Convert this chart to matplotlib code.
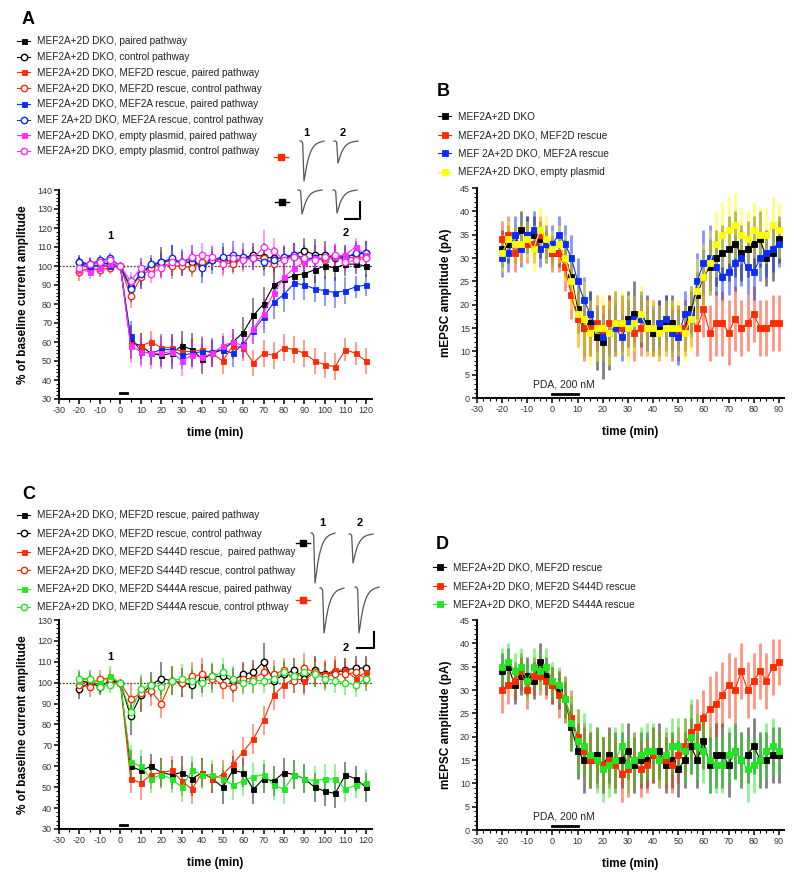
import matplotlib.pyplot as plt
from matplotlib.lines import Line2D
from matplotlib.ticker import MultipleLocator
import numpy as np

plt.rcParams['font.family'] = ['Liberation Sans', 'DejaVu Sans']
plt.rcParams['axes.unicode_minus'] = False

# x values
t_ltp = np.arange(-20, 121, 5)          # LTD time course, every 5 min
t_mini = np.arange(-20, 90.1, 2.5)      # mEPSC time course, every 2.5 min

# ---------------- panel A : % of baseline ----------------
A_dko_p = [101, 100, 100, 100, 100, 60, 58, 54, 53, 54, 58, 56, 51, 54, 56, 60, 65, 74, 80, 90, 93, 95, 96, 98, 100, 99, 101, 101, 100]
A_dko_p_err = [4, 3, 4, 3, 0, 9, 7, 6, 6, 8, 8, 9, 8, 7, 7, 7, 8, 9, 9, 8, 7, 6, 8, 7, 7, 7, 6, 5, 6]
A_dko_c = [102, 101, 102, 101, 100, 89, 96, 100, 102, 103, 102, 102, 100, 103, 104, 102, 104, 106, 105, 104, 104, 106, 108, 106, 106, 104, 105, 106, 107]
A_dko_c_err = [4, 3, 3, 3, 0, 5, 6, 4, 8, 8, 6, 6, 6, 5, 6, 5, 5, 6, 7, 6, 6, 6, 7, 8, 7, 7, 6, 6, 6]
A_2d_p = [100, 101, 100, 100, 100, 59, 58, 60, 57, 57, 55, 55, 56, 54, 50, 58, 57, 49, 54, 53, 57, 56, 54, 50, 48, 47, 56, 54, 50]
A_2d_p_err = [5, 4, 4, 3, 0, 7, 7, 6, 6, 7, 7, 7, 7, 7, 7, 7, 7, 7, 7, 7, 7, 7, 7, 7, 7, 7, 6, 6, 7]
A_2d_c = [97, 99, 98, 99, 100, 84, 94, 99, 101, 100, 100, 99, 102, 103, 102, 101, 104, 104, 104, 101, 104, 105, 103, 104, 103, 105, 105, 104, 105]
A_2d_c_err = [5, 4, 4, 3, 0, 6, 6, 5, 7, 7, 5, 5, 6, 5, 6, 5, 5, 6, 6, 6, 6, 6, 6, 6, 6, 6, 5, 5, 5]
A_2a_p = [101, 99, 101, 100, 100, 63, 55, 54, 56, 56, 53, 54, 55, 55, 56, 54, 59, 66, 73, 81, 85, 91, 90, 88, 87, 86, 87, 89, 90]
A_2a_p_err = [4, 3, 3, 3, 0, 8, 7, 6, 8, 8, 7, 7, 7, 7, 7, 7, 7, 7, 8, 9, 9, 9, 8, 7, 8, 8, 7, 6, 6]
A_2a_c = [102, 101, 103, 104, 100, 88, 96, 101, 102, 104, 102, 104, 99, 103, 105, 106, 105, 104, 102, 103, 105, 106, 104, 104, 104, 105, 104, 107, 107]
A_2a_c_err = [3, 3, 3, 3, 0, 7, 8, 5, 5, 7, 7, 7, 8, 7, 7, 7, 7, 6, 7, 6, 6, 6, 7, 7, 6, 6, 6, 6, 6]
A_emp_p = [98, 97, 99, 101, 100, 58, 55, 54, 54, 55, 50, 53, 52, 54, 58, 60, 58, 67, 75, 86, 94, 99, 102, 104, 104, 105, 106, 110, 106]
A_emp_p_err = [4, 4, 4, 3, 0, 9, 8, 8, 8, 8, 8, 7, 7, 7, 7, 7, 7, 8, 8, 8, 7, 7, 6, 6, 6, 6, 5, 5, 5]
A_emp_c = [99, 101, 102, 103, 100, 92, 99, 96, 99, 102, 102, 105, 106, 105, 101, 104, 103, 104, 110, 108, 103, 105, 104, 103, 105, 106, 102, 103, 104]
A_emp_c_err = [4, 3, 3, 3, 0, 5, 5, 5, 6, 6, 6, 6, 6, 6, 6, 6, 6, 6, 9, 7, 6, 6, 6, 6, 6, 6, 5, 5, 5]
A_labels = ['MEF2A+2D DKO, paired pathway', 'MEF2A+2D DKO, control pathway',
            'MEF2A+2D DKO, MEF2D rescue, paired pathway', 'MEF2A+2D DKO, MEF2D rescue, control pathway',
            'MEF2A+2D DKO, MEF2A rescue, paired pathway', 'MEF 2A+2D DKO, MEF2A rescue, control pathway',
            'MEF2A+2D DKO, empty plasmid, paired pathway', 'MEF2A+2D DKO, empty plasmid, control pathway']

# ---------------- panel B : mEPSC amplitude (pA) ----------------
B_dko = [32, 33, 33, 36, 35, 35, 34, 33, 31, 31, 30, 26, 19, 15, 16, 13, 12, 14, 16, 16, 17, 18, 17, 16, 14, 15, 16, 16, 15, 15,
         19, 22, 26, 28, 30, 31, 32, 33, 31, 32, 33, 34, 30, 31, 34]
B_dko_err = [4, 4, 4, 4, 4, 4, 4, 3, 3, 3, 4, 4, 5, 6, 7, 7, 8, 8, 7, 6, 6, 7, 6, 6, 5, 6, 6, 6, 5, 5,
             5, 5, 6, 6, 6, 6, 7, 7, 6, 6, 6, 6, 6, 6, 5]
B_2d = [34, 35, 31, 33, 33, 33, 35, 33, 31, 31, 28, 22, 17, 15, 15, 16, 14, 16, 15, 15, 15, 14, 15, 15, 15, 14, 15, 14, 14, 15,
        17, 15, 19, 14, 16, 16, 14, 17, 15, 16, 18, 15, 15, 16, 16]
B_2d_err = [4, 4, 4, 4, 4, 4, 4, 4, 4, 4, 5, 5, 6, 7, 6, 6, 6, 6, 6, 6, 6, 6, 6, 6, 6, 6, 6, 6, 6, 6,
            6, 6, 6, 6, 7, 7, 7, 7, 6, 6, 6, 6, 6, 6, 6]
B_2a = [30, 31, 35, 32, 35, 36, 32, 33, 33, 35, 33, 30, 25, 21, 18, 15, 13, 14, 15, 13, 16, 17, 17, 15, 15, 16, 17, 14, 13, 18,
        18, 25, 29, 30, 28, 26, 27, 29, 30, 28, 27, 30, 31, 32, 33]
B_2a_err = [4, 4, 4, 4, 4, 4, 4, 4, 4, 4, 4, 5, 5, 5, 5, 5, 5, 5, 5, 5, 5, 5, 5, 5, 5, 5, 5, 5, 6, 5,
            5, 6, 7, 7, 6, 5, 5, 6, 6, 6, 6, 5, 5, 5, 5]
B_emp = [31, 34, 33, 33, 34, 32, 36, 34, 32, 33, 30, 25, 18, 17, 14, 15, 15, 14, 16, 16, 15, 16, 18, 15, 15, 14, 15, 15, 15, 14,
         17, 23, 26, 29, 33, 35, 36, 37, 35, 34, 36, 35, 35, 37, 36]
B_emp_err = [4, 4, 4, 4, 4, 5, 5, 5, 4, 4, 5, 6, 7, 8, 7, 7, 7, 7, 7, 7, 7, 6, 6, 6, 6, 6, 6, 6, 6, 6,
             7, 7, 7, 7, 7, 7, 7, 7, 6, 6, 6, 6, 6, 6, 6]
B_labels = ['MEF2A+2D DKO', 'MEF2A+2D DKO, MEF2D rescue', 'MEF 2A+2D DKO, MEF2A rescue', 'MEF2A+2D DKO, empty plasmid']

# ---------------- panel C : % of baseline ----------------
C_2d_p = [101, 100, 99, 100, 100, 60, 58, 60, 57, 56, 57, 54, 57, 54, 50, 58, 57, 49, 54, 53, 57, 56, 54, 50, 48, 47, 56, 54, 50]
C_2d_p_err = [4, 3, 4, 3, 0, 8, 7, 6, 7, 7, 8, 8, 7, 7, 8, 7, 7, 7, 7, 7, 7, 7, 7, 7, 7, 7, 6, 6, 7]
C_2d_c = [97, 100, 98, 101, 100, 84, 94, 99, 102, 101, 100, 99, 102, 103, 103, 101, 104, 105, 110, 101, 104, 106, 102, 106, 104, 105, 106, 107, 107]
C_2d_c_err = [5, 4, 4, 3, 0, 9, 8, 6, 8, 7, 7, 7, 7, 6, 6, 6, 6, 6, 9, 7, 6, 6, 7, 7, 6, 6, 6, 6, 6]
C_sd_p = [99, 101, 99, 100, 100, 54, 52, 56, 57, 58, 53, 49, 57, 54, 56, 61, 67, 73, 82, 94, 99, 102, 101, 105, 104, 106, 106, 102, 105]
C_sd_p_err = [4, 4, 4, 3, 0, 7, 8, 7, 7, 7, 7, 7, 7, 7, 7, 7, 7, 7, 7, 7, 7, 7, 7, 7, 7, 7, 6, 6, 7]
C_sd_c = [99, 98, 102, 102, 100, 92, 95, 96, 90, 101, 100, 103, 104, 102, 99, 98, 102, 102, 105, 104, 106, 101, 107, 105, 103, 104, 104, 105, 102]
C_sd_c_err = [5, 5, 4, 4, 0, 8, 8, 7, 7, 7, 7, 7, 8, 7, 7, 7, 7, 7, 7, 7, 6, 6, 7, 7, 6, 6, 6, 6, 6]
C_sa_p = [101, 102, 100, 103, 100, 62, 60, 54, 56, 54, 50, 58, 56, 56, 54, 51, 53, 55, 56, 51, 49, 56, 54, 53, 54, 54, 49, 51, 52]
C_sa_p_err = [5, 4, 4, 5, 0, 8, 8, 7, 7, 7, 7, 7, 7, 7, 7, 7, 7, 7, 7, 7, 7, 7, 7, 7, 7, 7, 6, 6, 6]
C_sa_c = [102, 102, 98, 99, 100, 86, 97, 99, 98, 101, 102, 101, 100, 103, 105, 102, 100, 101, 101, 102, 105, 103, 105, 104, 102, 101, 100, 99, 102]
C_sa_c_err = [4, 4, 4, 4, 0, 8, 7, 6, 7, 7, 7, 7, 7, 7, 7, 6, 6, 6, 6, 6, 6, 6, 6, 6, 6, 6, 6, 6, 6]
C_labels = ['MEF2A+2D DKO, MEF2D rescue, paired pathway', 'MEF2A+2D DKO, MEF2D rescue, control pathway',
            'MEF2A+2D DKO, MEF2D S444D rescue,  paired pathway', 'MEF2A+2D DKO, MEF2D S444D rescue, control pathway',
            'MEF2A+2D DKO, MEF2D S444A rescue, paired pathway', 'MEF2A+2D DKO, MEF2D S444A rescue, control pthway']

# ---------------- panel D : mEPSC amplitude (pA) ----------------
D_2d = [34, 35, 31, 33, 33, 32, 36, 33, 31, 30, 28, 22, 17, 15, 15, 16, 14, 16, 15, 15, 17, 14, 15, 15, 16, 17, 14, 15, 13, 15,
        18, 15, 19, 14, 16, 16, 14, 17, 15, 16, 18, 15, 15, 16, 16]
D_2d_err = [4, 4, 4, 4, 4, 4, 4, 4, 4, 4, 4, 5, 6, 7, 6, 6, 6, 6, 6, 6, 6, 6, 6, 6, 6, 6, 6, 6, 6, 6,
            6, 6, 6, 6, 7, 7, 7, 6, 6, 6, 6, 6, 6, 6, 6]
D_sd = [30, 31, 32, 34, 30, 33, 33, 32, 31, 29, 28, 24, 20, 17, 15, 15, 14, 15, 14, 12, 13, 15, 13, 14, 16, 15, 15, 14, 16, 18,
        21, 22, 24, 26, 27, 29, 31, 30, 34, 30, 32, 34, 32, 35, 36]
D_sd_err = [5, 4, 4, 4, 4, 4, 4, 4, 4, 5, 5, 6, 6, 6, 6, 6, 6, 6, 6, 6, 6, 6, 6, 6, 6, 6, 6, 6, 6, 6,
            6, 6, 6, 7, 7, 7, 7, 7, 6, 6, 6, 6, 6, 6, 5]
D_sa = [35, 36, 34, 35, 32, 35, 34, 35, 32, 31, 28, 23, 19, 18, 16, 15, 13, 14, 15, 18, 14, 15, 16, 17, 17, 15, 16, 18, 18, 17,
        20, 18, 17, 15, 14, 14, 16, 17, 15, 13, 14, 15, 17, 18, 17]
D_sa_err = [4, 4, 4, 4, 4, 4, 4, 4, 4, 4, 5, 6, 7, 7, 7, 7, 7, 7, 7, 5, 6, 6, 6, 6, 6, 6, 6, 6, 6, 7,
            8, 7, 7, 7, 6, 6, 6, 6, 6, 7, 6, 6, 6, 6, 5]
D_labels = ['MEF2A+2D DKO, MEF2D rescue', 'MEF2A+2D DKO, MEF2D S444D rescue', 'MEF2A+2D DKO, MEF2D S444A rescue']

# example EPSC trace (normalised shape) and peak amplitudes of the insets
trace_shape = [0, 0, -0.05, -1.0, -0.82, -0.62, -0.47, -0.36, -0.27, -0.2, -0.15, -0.11, -0.08, -0.06, -0.04, -0.03, -0.02, -0.01, 0]
A_trace_amp = {'red': [40, 22], 'black': [24, 23]}
C_trace_amp = {'black': [50, 29], 'red': [45, 46]}

BLK, RED, BLU, MAG, YEL, GRN = '#000000', '#ff2a00', '#0a2aff', '#ff2bff', '#ffff00', '#1ee81e'
TXT = '#222222'

W, H = 800, 875
fig = plt.figure(figsize=(8, 8.75), dpi=100)


def px_rect(x0, y0, x1, y1):
    return [x0 / W, 1 - y1 / H, (x1 - x0) / W, (y1 - y0) / H]


def style(ax, xlim, ylim, xmaj, xmin, ymaj, ymin, ylabel):
    ax.set_xlim(*xlim)
    ax.set_ylim(*ylim)
    for s in ['top', 'right']:
        ax.spines[s].set_visible(False)
    for s in ['left', 'bottom']:
        ax.spines[s].set_linewidth(1.4)
    ax.xaxis.set_major_locator(MultipleLocator(xmaj))
    ax.xaxis.set_minor_locator(MultipleLocator(xmin))
    ax.yaxis.set_major_locator(MultipleLocator(ymaj))
    ax.yaxis.set_minor_locator(MultipleLocator(ymin))
    ax.tick_params(which='major', length=3.5, width=1.1, labelsize=6.5, labelcolor='#333333', pad=1.5)
    ax.tick_params(which='minor', length=2, width=0.8)
    ax.set_xlabel('time (min)', fontsize=8.5, fontweight='bold', labelpad=9)
    ax.set_ylabel(ylabel, fontsize=8.5, fontweight='bold', labelpad=6)


def draw(ax, x, series, ms_sq=3.6, ms_o=4.6, elw=1.3):
    handles = []
    for y, err, col, filled in series:
        ax.errorbar(x, y, yerr=err, fmt='none', ecolor=col, elinewidth=elw, alpha=0.5, capsize=0, zorder=2)
        if filled:
            kw = dict(marker='s', ms=ms_sq, mfc=col, mec=col, mew=0.6)
        else:
            kw = dict(marker='o', ms=ms_o, mfc='white', mec=col, mew=1.0)
        ax.plot(x, y, color=col, lw=0.8, zorder=3, **kw)
        handles.append(Line2D([], [], color=col, lw=0.8, **kw))
    return handles


def legend(handles, labels, x, y, spacing, fs=7.2):
    fig.legend(handles, labels, loc='upper left', bbox_to_anchor=(x / W, 1 - y / H), frameon=False,
               fontsize=fs, labelcolor=TXT, handlelength=1.3, handletextpad=0.7,
               borderpad=0, borderaxespad=0, labelspacing=spacing, numpoints=1)


# ---- A ----
axA = fig.add_axes(px_rect(59, 190, 372, 399))
style(axA, (-30, 123), (30, 140), 10, 5, 10, 2, '% of baseline current amplitude')
axA.axhline(100, color='#444444', lw=0.9, ls=(0, (1.5, 1.2)), zorder=1)
hA = draw(axA, t_ltp, [(A_dko_p, A_dko_p_err, BLK, True), (A_dko_c, A_dko_c_err, BLK, False),
                       (A_2d_p, A_2d_p_err, RED, True), (A_2d_c, A_2d_c_err, RED, False),
                       (A_2a_p, A_2a_p_err, BLU, True), (A_2a_c, A_2a_c_err, BLU, False),
                       (A_emp_p, A_emp_p_err, MAG, True), (A_emp_c, A_emp_c_err, MAG, False)])
axA.plot([0, 3.3], [33, 33], color=BLK, lw=2)
axA.text(-5, 114, '1', fontsize=8, fontweight='bold', ha='center')
axA.text(110, 116, '2', fontsize=8, fontweight='bold', ha='center')
legend(hA, A_labels, 17, 36.5, 0.57)

# ---- B ----
axB = fig.add_axes(px_rect(477, 188, 784, 398))
style(axB, (-30, 92), (0, 45), 10, 2.5, 5, 1, 'mEPSC amplitude (pA)')
hB = draw(axB, t_mini, [(B_dko, B_dko_err, BLK, True), (B_2d, B_2d_err, RED, True),
                        (B_2a, B_2a_err, BLU, True), (B_emp, B_emp_err, YEL, True)], ms_sq=3.8, elw=2)
axB.plot([0, 10], [0.9, 0.9], color=BLK, lw=2)
axB.text(4.5, 2.3, 'PDA, 200 nM', fontsize=7.5, ha='center', color=TXT)
legend(hB, B_labels, 438, 111.5, 0.85)

# ---- C ----
axC = fig.add_axes(px_rect(59, 620, 372, 829))
style(axC, (-30, 123), (30, 130), 10, 5, 10, 2, '% of baseline current amplitude')
axC.axhline(100, color='#444444', lw=0.9, ls=(0, (1.5, 1.2)), zorder=1)
hC = draw(axC, t_ltp, [(C_2d_p, C_2d_p_err, BLK, True), (C_2d_c, C_2d_c_err, BLK, False),
                       (C_sd_p, C_sd_p_err, RED, True), (C_sd_c, C_sd_c_err, RED, False),
                       (C_sa_p, C_sa_p_err, GRN, True), (C_sa_c, C_sa_c_err, GRN, False)])
axC.plot([0, 3.3], [32, 32], color=BLK, lw=2)
axC.text(-5, 111, '1', fontsize=8, fontweight='bold', ha='center')
axC.text(110, 115, '2', fontsize=8, fontweight='bold', ha='center')
legend(hC, C_labels, 17, 510.5, 0.84)

# ---- D ----
axD = fig.add_axes(px_rect(477, 620, 784, 830))
style(axD, (-30, 92), (0, 45), 10, 2.5, 5, 1, 'mEPSC amplitude (pA)')
hD = draw(axD, t_mini, [(D_2d, D_2d_err, BLK, True), (D_sd, D_sd_err, RED, True),
                        (D_sa, D_sa_err, GRN, True)], ms_sq=3.8, elw=2)
axD.plot([0, 10], [0.9, 0.9], color=BLK, lw=2)
axD.text(4.5, 2.3, 'PDA, 200 nM', fontsize=7.5, ha='center', color=TXT)
legend(hD, D_labels, 433, 562.5, 0.87)

# ---- panel letters ----
for letter, x, y in [('A', 22, 24), ('B', 437, 96), ('C', 22, 499), ('D', 436, 549)]:
    fig.text(x / W, 1 - y / H, letter, fontsize=13, fontweight='bold')

# ---- example traces (overlay in pixel coordinates) ----
ov = fig.add_axes([0, 0, 1, 1], zorder=10)
ov.set_xlim(0, W)
ov.set_ylim(H, 0)
ov.axis('off')
ov.patch.set_alpha(0)
shape = np.array(trace_shape)
tx = np.linspace(0, 24, len(shape))


def trace(x0, y0, amp):
    ov.plot(x0 + tx, y0 - shape * amp, color='#555555', lw=0.9)


def pathway_marker(x, y, col):
    ov.plot([x - 7, x + 7], [y, y], color=col, lw=1)
    ov.plot([x], [y], marker='s', ms=4, color=col)


# panel A insets
ov.text(306, 136, '1', fontsize=8, fontweight='bold', ha='center')
ov.text(343, 136, '2', fontsize=8, fontweight='bold', ha='center')
pathway_marker(281, 157, RED)
trace(300, 141, A_trace_amp['red'][0])
trace(334, 141, A_trace_amp['red'][1])
pathway_marker(282, 202, BLK)
trace(298, 190, A_trace_amp['black'][0])
trace(333, 190, A_trace_amp['black'][1])
ov.plot([345, 360, 360], [219, 219, 202], color=BLK, lw=1.5)

# panel C insets
ov.text(322, 526, '1', fontsize=8, fontweight='bold', ha='center')
ov.text(360, 526, '2', fontsize=8, fontweight='bold', ha='center')
pathway_marker(303, 543, BLK)
trace(311, 533, C_trace_amp['black'][0])
trace(349, 534, C_trace_amp['black'][1])
pathway_marker(303, 600, RED)
trace(320, 588, C_trace_amp['red'][0])
trace(355, 587, C_trace_amp['red'][1])
ov.plot([357, 374, 374], [648, 648, 632], color=BLK, lw=1.5)

fig.savefig('out.png', dpi=100)
